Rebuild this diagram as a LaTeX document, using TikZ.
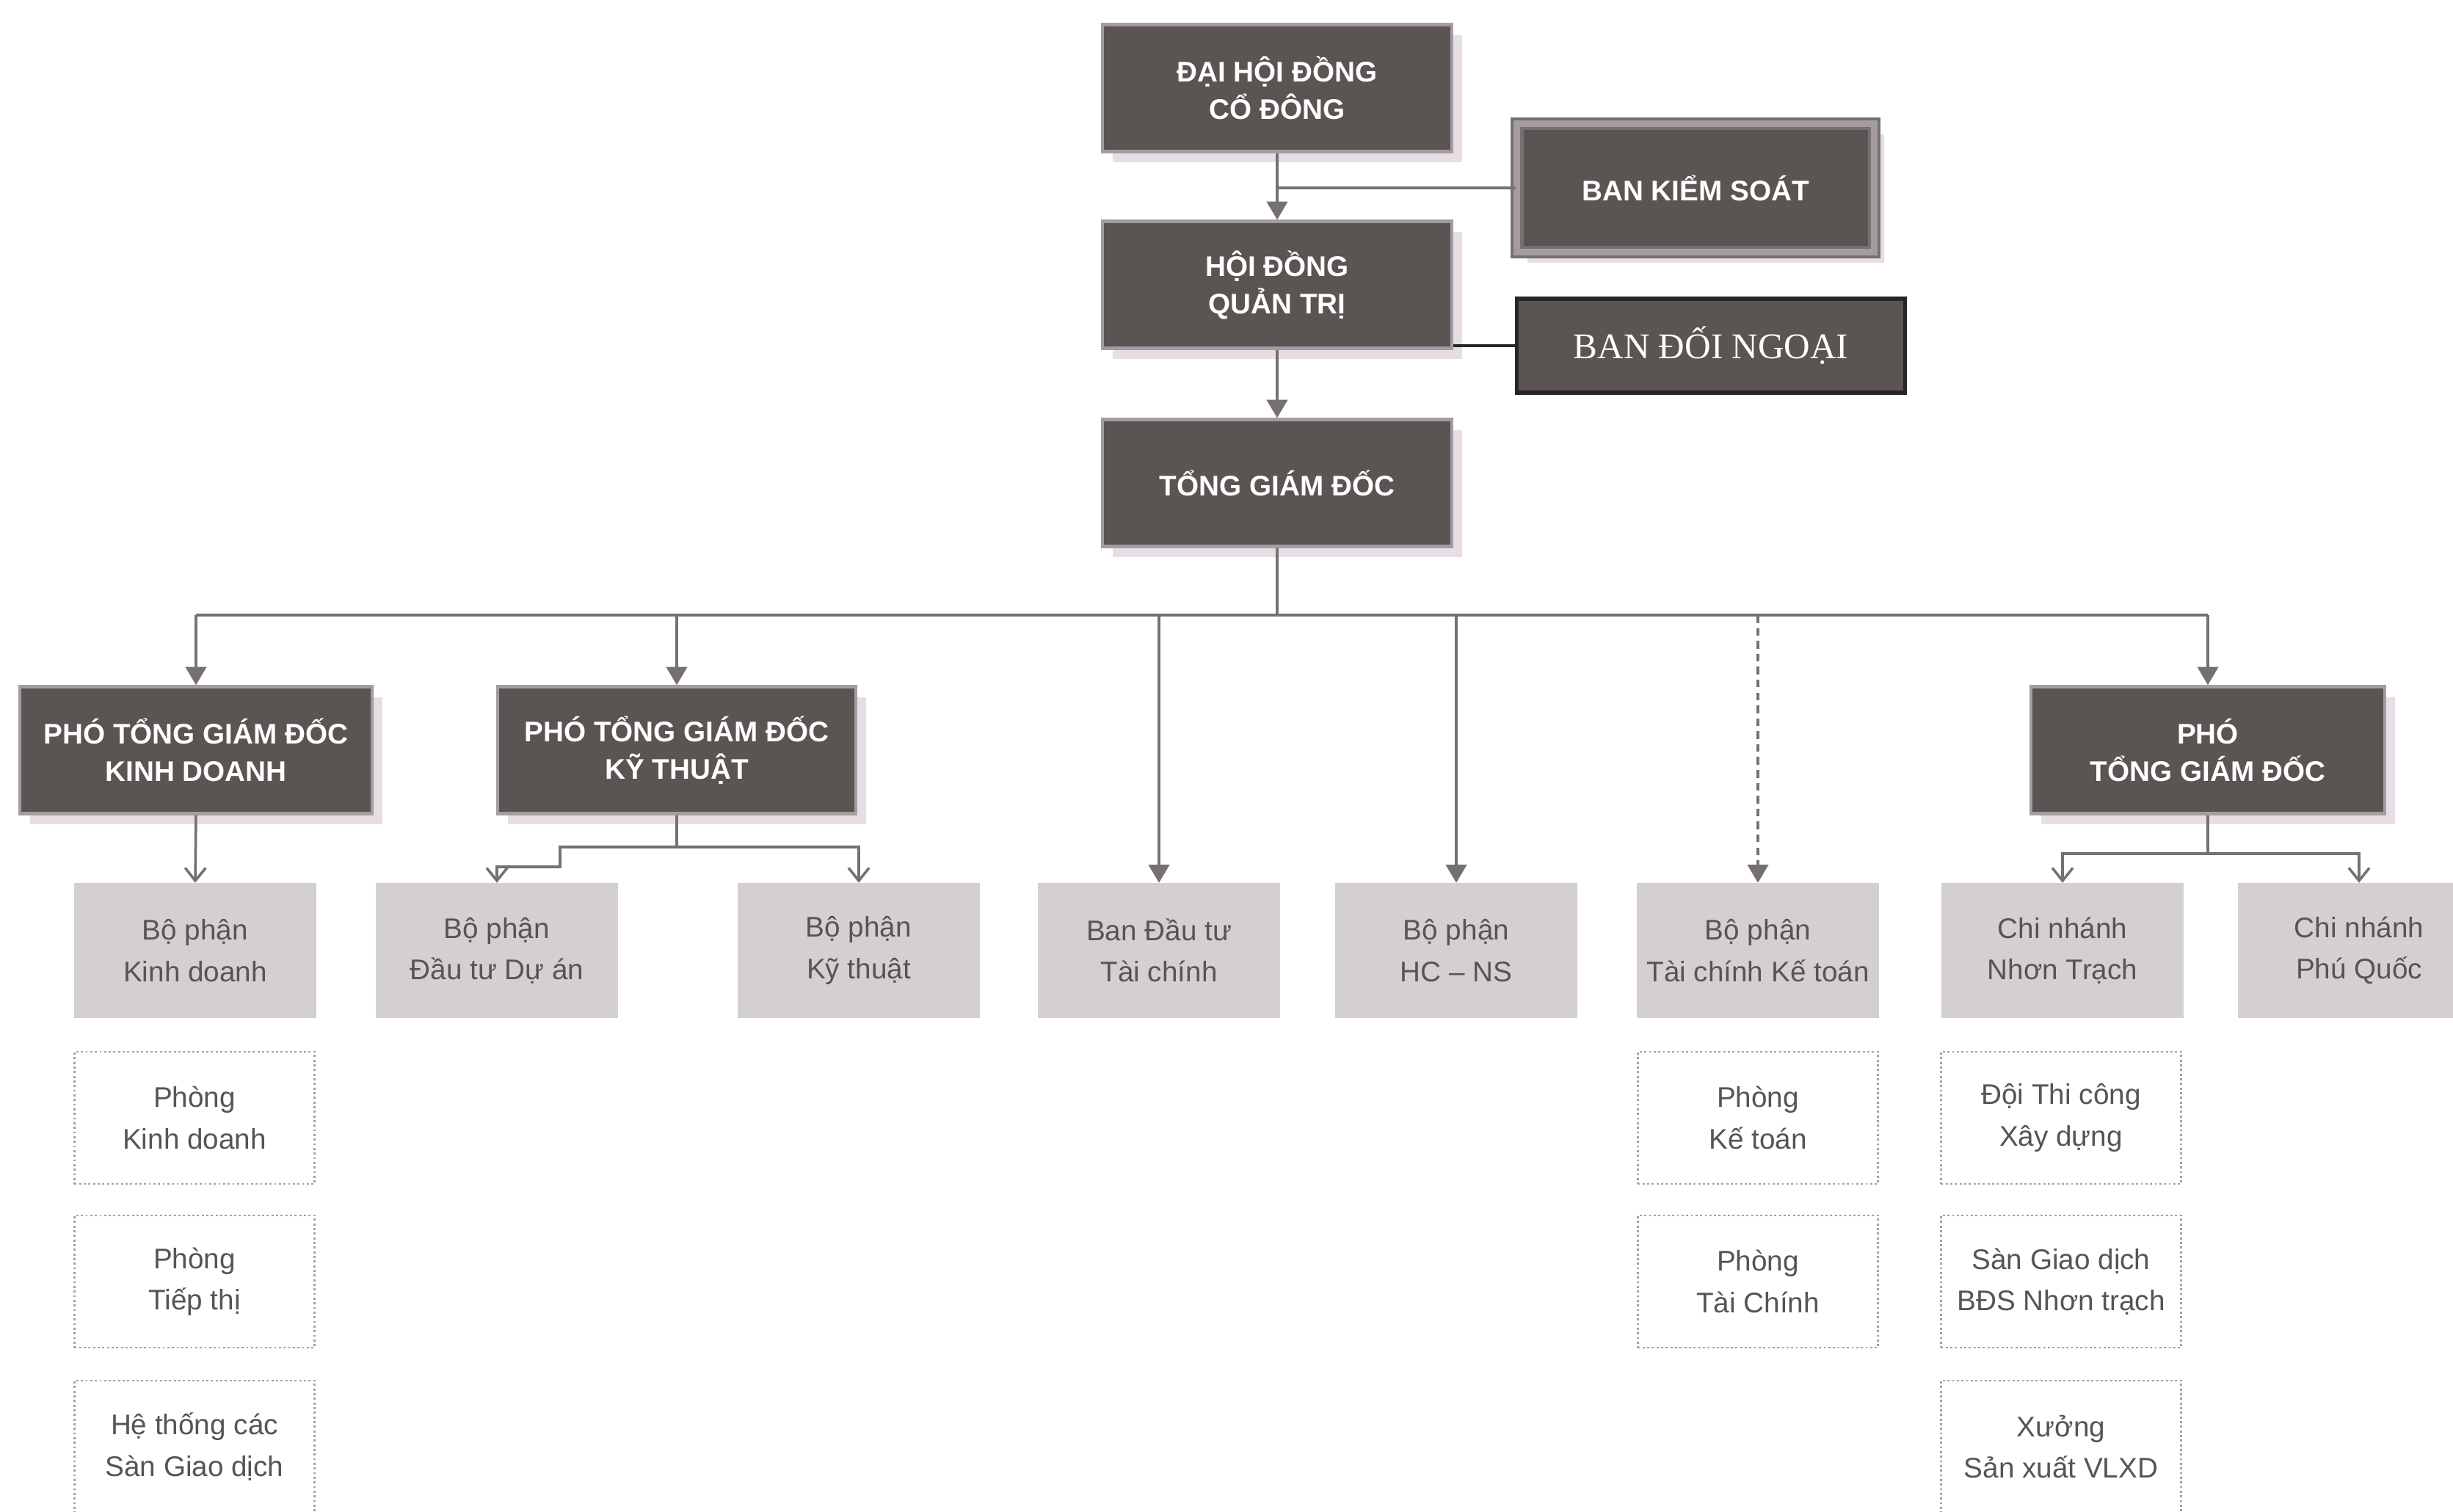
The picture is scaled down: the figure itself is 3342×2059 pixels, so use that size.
\documentclass[tikz,border=0pt]{standalone}
\usepackage{fontspec}
\setmainfont{Liberation Sans}
\newfontfamily\serifbox{Liberation Serif}
\usetikzlibrary{arrows.meta,shadows}

\definecolor{boxdark}{RGB}{90,84,82}
\definecolor{boxedge}{RGB}{165,156,162}
\definecolor{boxshade}{RGB}{230,222,228}
\definecolor{unitfill}{RGB}{212,207,211}
\definecolor{inkgray}{RGB}{88,83,86}
\definecolor{linegray}{RGB}{118,112,116}
\definecolor{roomedge}{RGB}{165,160,163}

\tikzset{
  plate/.style={fill=boxdark, draw=boxedge, line width=1.2pt, text=white,
    font=\bfseries\fontsize{11}{14.5}\selectfont, align=center, inner sep=0pt,
    minimum width=4.76cm, minimum height=1.73cm},
  head/.style={plate,
    drop shadow={shadow xshift=4pt, shadow yshift=-4pt, fill=boxshade, opacity=1}},
  unit/.style={fill=unitfill, text=inkgray, font=\fontsize{11}{16}\selectfont,
    align=center, inner sep=0pt, minimum width=3.3cm, minimum height=1.83cm},
  room/.style={fill=white, draw=roomedge, densely dotted, line width=0.8pt,
    text=inkgray, font=\fontsize{11}{16}\selectfont, align=center, inner sep=0pt,
    minimum width=3.27cm, minimum height=1.8cm},
  link/.style={draw=linegray, line width=1pt},
  bigtip/.style={-{Triangle[length=7pt,width=8pt]}},
  smalltip/.style={-{Straight Barb[length=5pt,width=8pt]}},
}

\begin{document}
\begin{tikzpicture}[x=0.01cm, y=-0.01cm]
  \useasboundingbox (0,0) rectangle (3342,2059);
  \clip (0,0) rectangle (3342,2059);
  \fill[white] (0,0) rectangle (3342,2059);

  % board and management
  \node[head] (dhdcd) at (1740,120) {ĐẠI HỘI ĐỒNG\\CỔ ĐÔNG};
  \node[head, minimum width=4.86cm, minimum height=1.75cm, draw=linegray,
    double=boxedge, double distance=2.5pt] (bks) at (2310,256) {BAN KIỂM SOÁT};
  \node[head] (hdqt) at (1740,388) {HỘI ĐỒNG\\QUẢN TRỊ};
  \node[plate, draw=black!85, line width=1.5pt,
    minimum width=5.29cm, minimum height=1.28cm,
    font=\serifbox\fontsize{14}{16}\selectfont] (bdn) at (2331,471) {BAN ĐỐI NGOẠI};
  \node[head] (tgd) at (1740,658) {TỔNG GIÁM ĐỐC};

  % deputies
  \node[head, minimum width=4.8cm] (ptkd) at (267,1022) {PHÓ TỔNG GIÁM ĐỐC\\KINH DOANH};
  \node[head, minimum width=4.88cm] (ptkt) at (922,1022) {PHÓ TỔNG GIÁM ĐỐC\\KỸ THUẬT};
  \node[head, minimum width=4.82cm] (ptgd) at (3008,1022) {PHÓ\\TỔNG GIÁM ĐỐC};

  % departments
  \node[unit] (bpkd) at (266,1295) {Bộ phận\\Kinh doanh};
  \node[unit] (bpda) at (677,1295) {Bộ phận\\Đầu tư Dự án};
  \node[unit] (bpkt) at (1170,1295) {Bộ phận\\Kỹ thuật};
  \node[unit] (dttc) at (1579,1295) {Ban Đầu tư\\Tài chính};
  \node[unit] (hcns) at (1984,1295) {Bộ phận\\HC – NS};
  \node[unit] (tckt) at (2395,1295) {Bộ phận\\Tài chính Kế toán};
  \node[unit] (cnnt) at (2810,1295) {Chi nhánh\\Nhơn Trạch};
  \node[unit] (cnpq) at (3214,1295) {Chi nhánh\\Phú Quốc};

  % offices
  \node[room] (pkd) at (265,1523) {Phòng\\Kinh doanh};
  \node[room] (ptt) at (265,1746) {Phòng\\Tiếp thị};
  \node[room] (htsgd) at (265,1971) {Hệ thống các\\Sàn Giao dịch};
  \node[room] (pkt) at (2395,1523) {Phòng\\Kế toán};
  \node[room] (ptc) at (2395,1746) {Phòng\\Tài Chính};
  \node[room] (dtc) at (2808,1523) {Đội Thi công\\Xây dựng};
  \node[room] (sgd) at (2808,1746) {Sàn Giao dịch\\BĐS Nhơn trạch};
  \node[room] (xsx) at (2808,1971) {Xưởng\\Sản xuất VLXD};

  % top connectors
  \draw[link,bigtip] (dhdcd.south) -- (hdqt.north);
  \draw[link] (bks.west) -- (bks.west -| dhdcd.south);
  \draw[line width=1.2pt, draw=black!85] (bdn.west) -- (bdn.west -| hdqt.east);
  \draw[link,bigtip] (hdqt.south) -- (tgd.north);

  % main bus
  \coordinate (bus) at (1740,838);
  \draw[link] (tgd.south) -- (bus);
  \draw[link] (ptkd |- bus) -- (ptgd |- bus);
  \foreach \n in {ptkd,ptkt,dttc,hcns,ptgd}
    \draw[link,bigtip] (\n |- bus) -- (\n.north);
  \draw[link,bigtip,dash pattern=on 3pt off 2pt] (tckt |- bus) -- (tckt.north);

  % deputy branches
  \draw[link,smalltip] (ptkd.south) -- (bpkd.north);
  \coordinate (ktbar) at (922,1154);
  \coordinate (ktstep) at (763,1181);
  \draw[link] (ptkt.south) -- (ktbar);
  \draw[link,smalltip] (ktbar) -| (bpkt.north);
  \draw[link,smalltip] (ktbar) -| (ktstep) -| (bpda.north);
  \coordinate (ptbar) at (3008,1163);
  \draw[link] (ptgd.south) -- (ptbar);
  \draw[link,smalltip] (ptbar) -| (cnnt.north);
  \draw[link,smalltip] (ptbar) -| (cnpq.north);
\end{tikzpicture}
\end{document}
